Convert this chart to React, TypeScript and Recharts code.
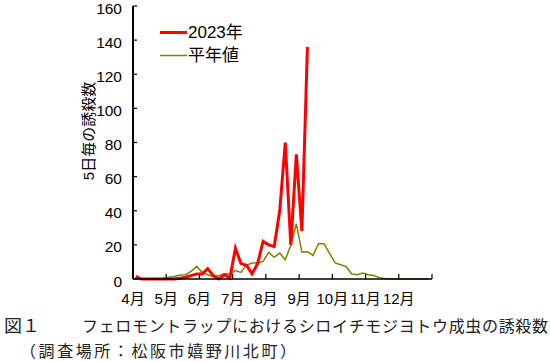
import { LineChart, Line, XAxis, YAxis, Legend, Label } from "recharts";

// 5-day periods (半旬), 6 per month from April to December
const monthLabels = ["4月", "5月", "6月", "7月", "8月", "9月", "10月", "11月", "12月", ""];
const monthTicks = [0, 6, 12, 18, 24, 30, 36, 42, 48, 54];
const yTicks = [0, 20, 40, 60, 80, 100, 120, 140, 160];

const catch2023 = [
  1.5, 0, 0, 0, 0, 0, 0, 0, 0.5, 1, 2, 3, 3, 6, 2, 0, 2.5, 0.5,
  18, 9, 8, 3, 9, 22, 20, 19, 40, 80, 20, 73, 28, 136,
];
const catchNormal = [
  0.5, 0.2, 0.2, 0.2, 0.3, 0.5, 1, 1.5, 2.3, 2.5, 4.5, 7.4, 3.9, 2.5, 1.3, 2, 3.1, 3,
  4.9, 3.9, 8.2, 9.4, 9.4, 10.3, 15.6, 12.7, 15.2, 11.3, 19.7, 32.4, 15.8, 16, 13.8, 20.7,
  20.7, 15, 9.4, 8.4, 7.2, 2.9, 2.5, 3.5, 2.5, 2, 0.7, 0.3, 0.1, 0, 0, 0, 0, 0, 0, 0,
];

const data = catchNormal.map((v, i) => ({
  period: i + 0.5,
  normal: v,
  y2023: i < catch2023.length ? catch2023[i] : null,
}));

const FONT = '"Liberation Sans", "Noto Sans CJK JP", sans-serif';
const JP = '"Noto Sans CJK JP", sans-serif';

function LegendBox() {
  const items = [
    { name: "2023年", color: "#FF0000", w: 3 },
    { name: "平年値", color: "#808000", w: 1.5 },
  ];
  return (
    <div>
      {items.map((it) => (
        <div key={it.name} style={{ display: "flex", alignItems: "center", height: 23, lineHeight: "23px" }}>
          <svg width={27} height={23} style={{ display: "block" }}>
            <line x1={0} x2={27} y1={11.5} y2={11.5} stroke={it.color} strokeWidth={it.w} />
          </svg>
          <span style={{ fontFamily: FONT, fontSize: 17, marginLeft: 1, color: "#000" }}>{it.name}</span>
        </div>
      ))}
    </div>
  );
}

export default function App() {
  return (
    <div style={{ position: "absolute", left: 0, top: 0, width: 550, height: 362, background: "#fff" }}>
      <LineChart width={550} height={310} data={data} margin={{ top: 6, right: 118, left: 73, bottom: 10 }}>
        <XAxis
          dataKey="period"
          type="number"
          domain={[0, 54]}
          ticks={monthTicks}
          interval={0}
          tickFormatter={(v) => monthLabels[monthTicks.indexOf(v)]}
          height={21}
          tickSize={-5}
          tickMargin={19}
          axisLine={{ stroke: "#000", strokeWidth: 1.5 }}
          tickLine={{ stroke: "#000", strokeWidth: 1.2 }}
          tick={{ fill: "#000", fontSize: 15, fontFamily: FONT }}
        />
        <YAxis
          domain={[0, 160]}
          ticks={yTicks}
          interval={0}
          width={60}
          tickSize={-4}
          tickMargin={15}
          axisLine={{ stroke: "#000", strokeWidth: 2 }}
          tickLine={{ stroke: "#000", strokeWidth: 1.2 }}
          tick={{ fill: "#000", fontSize: 15.5, fontFamily: FONT, dy: 2 }}
        >
          <Label
            content={() => (
              <text
                x={88}
                y={131}
                transform="rotate(-90 88 131)"
                textAnchor="middle"
                dominantBaseline="central"
                fontSize={15}
                fontFamily={FONT}
                fill="#000"
              >
                5日毎の誘殺数
              </text>
            )}
          />
        </YAxis>
        <Legend
          layout="vertical"
          verticalAlign="middle"
          align="center"
          wrapperStyle={{ left: 160, top: 21, width: "auto" }}
          content={() => <LegendBox />}
        />
        <Line
          type="linear"
          dataKey="normal"
          name="平年値"
          stroke="#808000"
          strokeWidth={1.5}
          dot={false}
          isAnimationActive={false}
        />
        <Line
          type="linear"
          dataKey="y2023"
          name="2023年"
          stroke="#FF0000"
          strokeWidth={3}
          dot={false}
          isAnimationActive={false}
        />
      </LineChart>
      <svg width={550} height={62} style={{ position: "absolute", left: 0, top: 300 }}>
        <text x={4} y={32} fontSize={17} fontFamily={JP} fill="#222" textLength={36} lengthAdjust="spacingAndGlyphs">
          図１
        </text>
        <text x={82} y={32} fontSize={16} fontFamily={JP} fill="#222" textLength={466} lengthAdjust="spacing">
          フェロモントラップにおけるシロイチモジヨトウ成虫の誘殺数
        </text>
        <text x={20} y={57} fontSize={16} fontFamily={JP} fill="#222" textLength={276} lengthAdjust="spacing">
          （調査場所：松阪市嬉野川北町）
        </text>
      </svg>
    </div>
  );
}
